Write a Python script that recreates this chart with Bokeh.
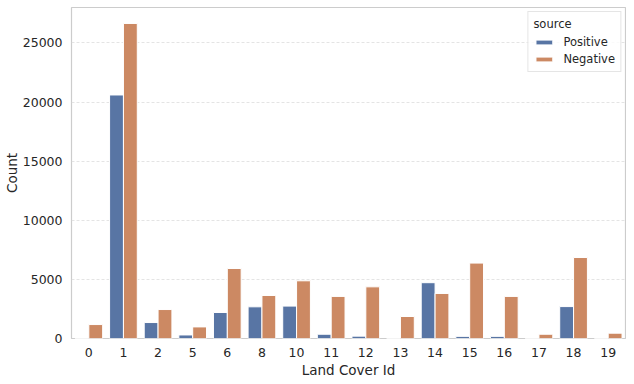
from bokeh.plotting import figure
from bokeh.models import FactorRange, ColumnDataSource, Legend, LegendItem, SingleIntervalTicker, Range1d
from bokeh.transform import dodge
from bokeh.embed import file_html
from bokeh.resources import INLINE

categories = ["0", "1", "2", "5", "6", "8", "10", "11", "12", "13", "14", "15", "16", "17", "18", "19"]
positive = [0, 20600, 1350, 300, 2200, 2680, 2740, 360, 200, 0, 4720, 180, 180, 0, 2700, 0]
negative = [1180, 26650, 2450, 980, 5920, 3640, 4880, 3560, 4370, 1860, 3810, 6380, 3560, 360, 6850, 450]
series_names = ["Positive", "Negative"]
colors = ["#5875A4", "#CC8963"]

src = ColumnDataSource(dict(cat=categories, pos=positive, neg=negative))

p = figure(x_range=FactorRange(*categories), y_range=Range1d(0, 28000),
           frame_width=554, frame_height=331, output_backend="svg", toolbar_location=None,
           min_border_left=0, min_border_right=1, min_border_top=7, min_border_bottom=0)

FONT = "DejaVu Sans"

r1 = p.vbar(x=dodge("cat", -0.2, range=p.x_range), top="pos", width=0.4, source=src,
            fill_color=colors[0], line_color="white", line_width=1)
r2 = p.vbar(x=dodge("cat", 0.2, range=p.x_range), top="neg", width=0.4, source=src,
            fill_color=colors[1], line_color="white", line_width=1)

p.outline_line_color = "#cccccc"
p.outline_line_width = 1.2
p.background_fill_color = "white"
p.border_fill_color = "white"

p.xgrid.grid_line_color = None
p.ygrid.grid_line_color = "#dddddd"
p.ygrid.grid_line_dash = "3 2"
p.ygrid.grid_line_width = 0.8

p.yaxis.ticker = SingleIntervalTicker(interval=5000)
for ax in (p.xaxis[0], p.yaxis[0]):
    ax.axis_line_color = None
    ax.major_tick_line_color = None
    ax.minor_tick_line_color = None
    ax.major_tick_out = 0
    ax.major_tick_in = 0
    ax.minor_tick_out = 0
    ax.minor_tick_in = 0
    ax.major_label_text_font = FONT
    ax.major_label_text_font_size = "12.5px"
    ax.major_label_text_color = "#262626"
    ax.axis_label_text_font = FONT
    ax.axis_label_text_font_size = "13.5px"
    ax.axis_label_text_font_style = "normal"
    ax.axis_label_text_color = "#262626"

p.xaxis.axis_label = "Land Cover Id"
p.yaxis.axis_label = "Count"
p.xaxis.major_label_standoff = 9
p.yaxis.major_label_standoff = 9
p.xaxis.axis_label_standoff = 2
p.yaxis.axis_label_standoff = 0

legend = Legend(items=[LegendItem(label=series_names[0], renderers=[r1]),
                       LegendItem(label=series_names[1], renderers=[r2])],
                location="top_right", title="source")
legend.title_text_font = FONT
legend.title_text_font_size = "11.5px"
legend.title_text_font_style = "normal"
legend.title_text_color = "#262626"
legend.title_standoff = 4
legend.label_text_font = FONT
legend.label_text_font_size = "11.5px"
legend.label_text_color = "#262626"
legend.glyph_width = 21
legend.glyph_height = 6
legend.label_height = 12
legend.spacing = 3
legend.padding = 5
legend.margin = 4
legend.label_standoff = 9
legend.border_line_color = "#cccccc"
legend.border_line_width = 1
legend.background_fill_alpha = 0.8
p.add_layout(legend)

open("out.html", "w").write(file_html(p, INLINE))
